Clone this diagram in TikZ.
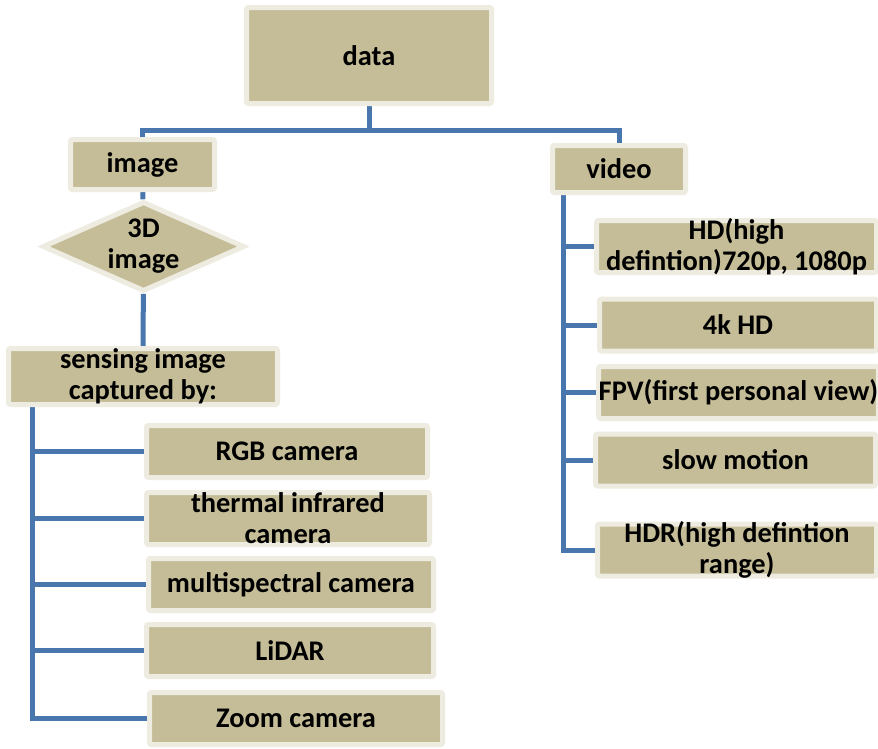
\documentclass[tikz,border=0pt]{standalone}
\usepackage{fontspec}
\setmainfont{Carlito}
\usetikzlibrary{
    shapes.geometric,
    backgrounds
}

\definecolor{boxtan}{HTML}{C4BD97}
\definecolor{boxrim}{HTML}{EEECE1}
\definecolor{linkblue}{HTML}{4A76AE}

\begin{document}
\begin{tikzpicture}[
    x=1pt, y=-1pt,
    every node/.style={font=\fontsize{28.4}{31}\selectfont\bfseries},
    box/.style={rectangle, rounded corners=2pt, minimum height=52pt,
                text centered, align=center, inner sep=0pt,
                draw=boxrim, line width=5pt, fill=boxtan},
    twoline/.style={inner ysep=-8pt},
    choice/.style={diamond, align=center, inner sep=-18pt,
                   draw=boxrim, line width=5pt, fill=boxtan},
    line/.style={draw=linkblue, line width=5pt}
]

    \useasboundingbox (0,0) rectangle (878,748);

    % Top of the tree
    \node (data) [box, minimum width=245pt, minimum height=96pt] at (369,55.5) {data};
    \node (image) [box, minimum width=144pt, minimum height=50pt] at (142.5,164.5) {image};
    \node (video) [box, minimum width=133pt, minimum height=47pt] at (619,169) {video};

    % Image side
    \node (depth) [choice, minimum width=202pt, minimum height=90pt] at (143.5,246.5) {3D\\image};
    \node (sense) [box, twoline, minimum width=269pt, minimum height=56pt] at (143,376.5) {sensing image\\captured by:};

    % Sensors
    \node (rgb) [box, minimum width=281pt] at (287,451.5) {RGB camera};
    \node (thermal) [box, twoline, minimum width=283pt] at (288,518.5) {thermal infrared\\camera};
    \node (multi) [box, minimum width=285pt] at (291,584.5) {multispectral camera};
    \node (lidar) [box, minimum width=287pt] at (290,650.5) {LiDAR};
    \node (zoomcam) [box, minimum width=293pt] at (296,718.5) {Zoom camera};

    % Video formats
    \node (hd) [box, twoline, minimum width=280pt] at (736.5,246.5) {HD(high\\defintion)720p, 1080p};
    \node (fourk) [box, minimum width=277pt] at (738,325) {4k HD};
    \node (fpv) [box, minimum width=276pt] at (738.5,392.5) {FPV(first personal view)};
    \node (slow) [box, minimum width=280pt] at (735.5,460) {slow motion};
    \node (hdr) [box, twoline, minimum width=279pt] at (737,550) {HDR(high defintion\\range)};

    % Trunks of the two lists
    \coordinate (lroot) at ([xshift=26.5pt]sense.south west);
    \coordinate (rroot) at ([xshift=13.5pt]video.south west);

    % Connections
    \begin{scope}[on background layer]
        \fill[white] (0,0) rectangle (878,748);
        \draw [line] (data.south) -- ++(0,24.5) -| (image.north);
        \draw [line] (data.south) -- ++(0,24.5) -| (video.north);
        \draw [line] (image) -- (depth);
        \draw [line] (depth) -- (sense);
        \draw [line] (lroot) |- (zoomcam.west);
        \foreach \n in {rgb, thermal, multi, lidar}
            \draw [line] (\n.west) -- (\n.west -| lroot);
        \draw [line] (rroot) |- (hdr.west);
        \foreach \n in {hd, fourk, fpv, slow}
            \draw [line] (\n.west) -- (\n.west -| rroot);
    \end{scope}

\end{tikzpicture}
\end{document}
